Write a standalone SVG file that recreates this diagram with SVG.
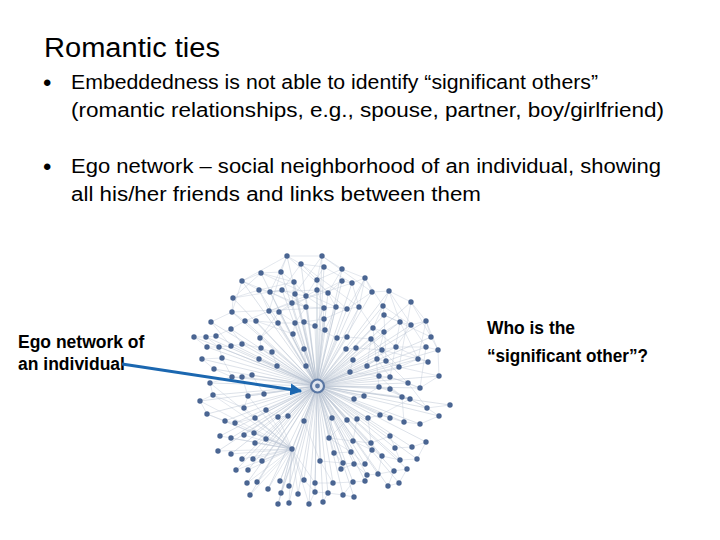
<svg xmlns="http://www.w3.org/2000/svg" width="720" height="540" viewBox="0 0 720 540">
<style>
.t{font-family:"Liberation Sans",Arial,sans-serif;fill:#000}
.body{font-size:20px}
.bul{font-size:24px}
.title{font-size:27px}
.lbl{font-size:17.5px;font-weight:bold}
.q{font-size:17.5px;font-weight:bold}
.e{fill:none;stroke:#b0bccd;stroke-width:0.55;opacity:0.8}
.e2{fill:none;stroke:#bcc6d5;stroke-width:0.5;opacity:0.8}
.n{fill:#4a6592}
</style>
<defs>
<marker id="ah" viewBox="0 0 10 10" refX="9" refY="5" markerWidth="4" markerHeight="4" orient="auto" markerUnits="strokeWidth">
<path d="M0 0L10 5L0 10z" fill="#1b67b0"/>
</marker>
</defs>
<rect width="720" height="540" fill="#fff"/>
<g id="title"><text class="t title" x="44" y="57" textLength="176" lengthAdjust="spacingAndGlyphs">Romantic ties</text></g>
<g id="bullets">
<text class="t bul" x="43" y="91">•</text>
<text class="t body" x="71" y="89" textLength="527" lengthAdjust="spacingAndGlyphs">Embeddedness is not able to identify “significant others”</text>
<text class="t body" x="71" y="117" textLength="593" lengthAdjust="spacingAndGlyphs">(romantic relationships, e.g., spouse, partner, boy/girlfriend)</text>
<text class="t bul" x="43" y="175">•</text>
<text class="t body" x="71" y="173" textLength="590" lengthAdjust="spacingAndGlyphs">Ego network – social neighborhood of an individual, showing</text>
<text class="t body" x="71" y="201" textLength="410" lengthAdjust="spacingAndGlyphs">all his/her friends and links between them</text>
</g>
<g id="edges">
<path class="e" d="M317 386L287 256M317 386L322 256M317 386L301 264M317 386L324 267M317 386L261 273M317 386L281 272M317 386L342 269M317 386L242 281M317 386L294 282M317 386L317 280M317 386L342 281M317 386L352 283M317 386L365 278M317 386L259 290M317 386L270 292M317 386L282 290M317 386L295 294M317 386L306 296M317 386L317 290M317 386L328 293M317 386L372 292M317 386L233 298M317 386L292 303M317 386L306 307M317 386L324 308M317 386L336 307M317 386L347 309M317 386L359 307M317 386L269 311M317 386L232 312M317 386L279 312M317 386L245 321M317 386L256 321M317 386L278 323M317 386L295 323M317 386L304 322M317 386L324 319M317 386L315 326M317 386L211 322M317 386L231 329M317 386L325 330M317 386L337 338M317 386L347 337M317 386L260 338M317 386L293 334
M317 386L194 337M317 386L206 337M317 386L216 336M317 386L207 347M317 386L219 347M317 386L231 346M317 386L242 344M317 386L261 348M317 386L272 352M317 386L202 359M317 386L222 358M317 386L259 359M317 386L277 366M317 386L306 366M317 386L304 349M317 386L346 349M317 386L356 348M317 386L353 360M317 386L214 369M317 386L232 377M317 386L242 377M317 386L252 375M317 386L210 383M317 386L200 401M317 386L213 395M317 386L248 396M317 386L264 394M317 386L207 414M317 386L244 408M317 386L225 421M317 386L235 423M317 386L255 418M317 386L266 410M317 386L278 417M317 386L288 416M317 386L304 421M317 386L332 418M317 386L347 420M317 386L357 419M317 386L368 418M317 386L364 396M317 386L354 399M317 386L350 372M317 386L367 366
M317 386L389 291M317 386L411 302M317 386L383 306M317 386L384 315M317 386L400 322M317 386L411 325M317 386L426 321M317 386L373 328M317 386L384 332M317 386L431 337M317 386L371 339M317 386L382 350M317 386L396 347M317 386L426 347M317 386L438 350M317 386L377 359M317 386L386 361M317 386L399 367M317 386L418 359M317 386L428 362M317 386L379 376M317 386L390 377M317 386L408 383M317 386L420 388M317 386L439 376M317 386L379 387M317 386L390 389M317 386L402 397M317 386L410 399M317 386L427 408M317 386L450 405M317 386L439 416M317 386L380 415M317 386L390 418M317 386L404 422M317 386L420 424
M317 386L220 436M317 386L231 438M317 386L244 435M317 386L254 433M317 386L266 439M317 386L255 443M317 386L218 451M317 386L231 454M317 386L242 459M317 386L253 459M317 386L262 461M317 386L292 449M317 386L329 438M317 386L353 441M317 386L371 443M317 386L390 436M317 386L382 456M317 386L372 450M317 386L351 452M317 386L334 453M317 386L395 448M317 386L412 447M317 386L426 442M317 386L236 470M317 386L248 470M317 386L320 461M317 386L343 463M317 386L354 464M317 386L365 464M317 386L341 469M317 386L400 460M317 386L417 459M317 386L367 475M317 386L378 474M317 386L394 471M317 386L407 469M317 386L247 483M317 386L257 482M317 386L268 489M317 386L280 481M317 386L289 486M317 386L304 480M317 386L315 483M317 386L333 483M317 386L353 482M317 386L365 481M317 386L388 486M317 386L399 483M317 386L250 495M317 386L281 493M317 386L298 494M317 386L315 492M317 386L328 493M317 386L343 495M317 386L354 497M317 386L278 504M317 386L289 503M317 386L309 504M317 386L323 502"/>
<path class="e2" d="M287 256L322 256M287 256L301 264M301 264L324 267M322 256L342 269M261 273L281 272M281 272L294 282M242 281L259 290M259 290L270 292M270 292L282 290M282 290L295 294M295 294L306 296M306 296L317 290M317 290L328 293M328 293L342 281M342 281L352 283M352 283L365 278M365 278L372 292M233 298L259 290M233 298L232 312M292 303L306 307M306 307L324 308M324 308L336 307M336 307L347 309M347 309L359 307M269 311L279 312M245 321L256 321M278 323L295 323M295 323L304 322M304 322L324 319M324 319L325 330M261 273L294 282M242 281L287 256M301 264L317 280M317 280L342 269M324 267L352 283M270 292L292 303M292 303L279 312M259 290L269 311M282 290L306 307M306 296L324 308M328 293L336 307M347 309L372 292M359 307L365 278M232 312L245 321M256 321L278 323M279 312L295 323M315 326L304 322M337 338L347 337M324 319L347 309M260 338L278 323M293 334L295 323M231 329L245 321M211 322L232 312M242 281L261 273M294 282L306 296M317 280L328 293M287 256L281 272M322 256L317 280M342 269L365 278M259 290L294 282M270 292L317 290M233 298L282 290M242 281L306 307M261 273L336 307M301 264L359 307M322 256L372 292M287 256L347 309M245 321L306 296M232 312L324 308M269 311L352 283M279 312L342 281M261 273L233 298M287 256L270 292M322 256L295 294M324 267L306 296M342 269L328 293M301 264L282 290M242 281L232 312M352 283L359 307M365 278L347 309M281 272L269 311M294 282L292 303M317 290L324 308M306 307L295 323M324 308L315 326M336 307L325 330M279 312L260 338M256 321L293 334M304 322L337 338M347 337L359 307
M389 291L411 302M389 291L383 306M383 306L384 315M384 315L400 322M400 322L411 325M411 325L426 321M411 302L426 321M373 328L384 332M384 332L400 322M426 321L431 337M431 337L438 350M371 339L382 350M382 350L396 347M396 347L426 347M426 347L438 350M377 359L386 361M386 361L399 367M399 367L418 359M418 359L428 362M379 376L390 377M390 377L408 383M408 383L420 388M420 388L439 376M379 387L390 389M390 389L402 397M402 397L410 399M410 399L427 408M427 408L450 405M427 408L439 416M380 415L390 418M390 418L404 422M404 422L420 424M420 424L439 416M383 306L411 325M389 291L400 322M373 328L396 347M384 315L431 337M371 339L399 367M382 350L418 359M396 347L428 362M377 359L390 377M386 361L408 383M399 367L439 376M379 376L402 397M390 377L420 388M379 387L410 399M390 389L427 408M402 397L404 422M380 415L410 399M411 302L431 337M426 321L438 350M400 322L418 359M384 332L377 359M371 339L386 361M408 383L427 408M438 350L439 376M426 347L420 388M383 306L373 328M411 325L396 347M389 291L426 347M384 315L386 361M400 322L390 377M411 302L399 367M373 328L379 387M426 321L418 359M372 292L389 291M365 278L383 306M359 307L373 328M347 337L371 339M356 348L382 350M367 366L377 359M364 396L379 387M368 418L380 415M350 372L379 376
M292 449L220 436M292 449L231 438M292 449L244 435M292 449L254 433M292 449L266 439M292 449L255 443M292 449L218 451M292 449L231 454M292 449L242 459M292 449L253 459M292 449L262 461M292 449L236 470M292 449L248 470M292 449L247 483M292 449L257 482M292 449L268 489M292 449L280 481M292 449L289 486M292 449L304 480M292 449L250 495M292 449L281 493M292 449L298 494M292 449L278 504M292 449L289 503M292 449L309 504M292 449L207 414M292 449L225 421M292 449L235 423M292 449L255 418M292 449L210 383M292 449L213 395M292 449L248 396M292 449L200 401M292 449L244 408M292 449L266 410M292 449L278 417M292 449L315 483
M329 438L353 441M353 441L371 443M371 443L390 436M372 450L382 456M351 452L334 453M395 448L412 447M412 447L426 442M343 463L354 464M354 464L365 464M400 460L417 459M367 475L378 474M378 474L394 471M394 471L407 469M333 483L353 482M353 482L365 481M388 486L399 483M315 492L328 493M328 493L343 495M343 495L354 497M320 461L343 463M341 469L354 464M365 464L372 450M382 456L400 460M390 436L395 448M426 442L417 459M368 418L371 443M357 419L353 441M347 420L329 438M332 418L329 438M304 421L320 461M315 483L333 483M304 480L315 492M329 438L351 452M353 441L372 450M334 453L343 463M351 452L365 464M371 443L382 456M395 448L400 460M367 475L354 464M378 474L382 456M343 495L353 482M365 481L367 475M388 486L394 471M399 483L407 469M320 461L333 483M323 502L328 493M309 504L315 492
M194 337L206 337M206 337L216 336M207 347L219 347M219 347L231 346M231 346L242 344M202 359L222 358M214 369L232 377M232 377L242 377M242 377L252 375M210 383L213 395M200 401L213 395M207 414L225 421M225 421L235 423M255 418L266 410M266 410L278 417M278 417L288 416M261 348L272 352M259 359L277 366M248 396L264 394M244 408L248 396M216 336L231 329M219 347L222 358M242 344L261 348M304 349L306 366M346 349L356 348M353 360L350 372M364 396L354 399M367 366L371 339M194 337L207 347M206 337L219 347M202 359L214 369M222 358L232 377M210 383L232 377M213 395L244 408M200 401L207 414M235 423L255 418M211 322L231 346M231 329L242 344M260 338L261 348M272 352L277 366M242 377L248 396M252 375L264 394"/>
</g>
<g id="nodes" class="n">
<circle cx="287" cy="256" r="2.7"/><circle cx="322" cy="256" r="2.7"/><circle cx="301" cy="264" r="2.7"/><circle cx="324" cy="267" r="2.7"/><circle cx="261" cy="273" r="2.7"/><circle cx="281" cy="272" r="2.7"/><circle cx="342" cy="269" r="2.7"/><circle cx="242" cy="281" r="2.7"/><circle cx="294" cy="282" r="2.7"/><circle cx="317" cy="280" r="2.7"/><circle cx="342" cy="281" r="2.7"/><circle cx="352" cy="283" r="2.7"/><circle cx="365" cy="278" r="2.7"/><circle cx="259" cy="290" r="2.7"/><circle cx="270" cy="292" r="2.7"/><circle cx="282" cy="290" r="2.7"/><circle cx="295" cy="294" r="2.7"/><circle cx="306" cy="296" r="2.7"/><circle cx="317" cy="290" r="2.7"/><circle cx="328" cy="293" r="2.7"/><circle cx="372" cy="292" r="2.7"/><circle cx="233" cy="298" r="2.7"/><circle cx="292" cy="303" r="2.7"/><circle cx="306" cy="307" r="2.7"/><circle cx="324" cy="308" r="2.7"/><circle cx="336" cy="307" r="2.7"/><circle cx="347" cy="309" r="2.7"/><circle cx="359" cy="307" r="2.7"/><circle cx="269" cy="311" r="2.7"/><circle cx="232" cy="312" r="2.7"/><circle cx="279" cy="312" r="2.7"/><circle cx="245" cy="321" r="2.7"/><circle cx="256" cy="321" r="2.7"/><circle cx="278" cy="323" r="2.7"/><circle cx="295" cy="323" r="2.7"/><circle cx="304" cy="322" r="2.7"/><circle cx="324" cy="319" r="2.7"/><circle cx="315" cy="326" r="2.7"/><circle cx="211" cy="322" r="2.7"/><circle cx="231" cy="329" r="2.7"/><circle cx="325" cy="330" r="2.7"/><circle cx="337" cy="338" r="2.7"/><circle cx="347" cy="337" r="2.7"/><circle cx="260" cy="338" r="2.7"/><circle cx="293" cy="334" r="2.7"/>
<circle cx="194" cy="337" r="2.7"/><circle cx="206" cy="337" r="2.7"/><circle cx="216" cy="336" r="2.7"/><circle cx="207" cy="347" r="2.7"/><circle cx="219" cy="347" r="2.7"/><circle cx="231" cy="346" r="2.7"/><circle cx="242" cy="344" r="2.7"/><circle cx="261" cy="348" r="2.7"/><circle cx="272" cy="352" r="2.7"/><circle cx="202" cy="359" r="2.7"/><circle cx="222" cy="358" r="2.7"/><circle cx="259" cy="359" r="2.7"/><circle cx="277" cy="366" r="2.7"/><circle cx="306" cy="366" r="2.7"/><circle cx="304" cy="349" r="2.7"/><circle cx="346" cy="349" r="2.7"/><circle cx="356" cy="348" r="2.7"/><circle cx="353" cy="360" r="2.7"/><circle cx="214" cy="369" r="2.7"/><circle cx="232" cy="377" r="2.7"/><circle cx="242" cy="377" r="2.7"/><circle cx="252" cy="375" r="2.7"/><circle cx="210" cy="383" r="2.7"/><circle cx="200" cy="401" r="2.7"/><circle cx="213" cy="395" r="2.7"/><circle cx="248" cy="396" r="2.7"/><circle cx="264" cy="394" r="2.7"/><circle cx="207" cy="414" r="2.7"/><circle cx="244" cy="408" r="2.7"/><circle cx="225" cy="421" r="2.7"/><circle cx="235" cy="423" r="2.7"/><circle cx="255" cy="418" r="2.7"/><circle cx="266" cy="410" r="2.7"/><circle cx="278" cy="417" r="2.7"/><circle cx="288" cy="416" r="2.7"/><circle cx="304" cy="421" r="2.7"/><circle cx="332" cy="418" r="2.7"/><circle cx="347" cy="420" r="2.7"/><circle cx="357" cy="419" r="2.7"/><circle cx="368" cy="418" r="2.7"/><circle cx="364" cy="396" r="2.7"/><circle cx="354" cy="399" r="2.7"/><circle cx="350" cy="372" r="2.7"/><circle cx="367" cy="366" r="2.7"/>
<circle cx="389" cy="291" r="2.7"/><circle cx="411" cy="302" r="2.7"/><circle cx="383" cy="306" r="2.7"/><circle cx="384" cy="315" r="2.7"/><circle cx="400" cy="322" r="2.7"/><circle cx="411" cy="325" r="2.7"/><circle cx="426" cy="321" r="2.7"/><circle cx="373" cy="328" r="2.7"/><circle cx="384" cy="332" r="2.7"/><circle cx="431" cy="337" r="2.7"/><circle cx="371" cy="339" r="2.7"/><circle cx="382" cy="350" r="2.7"/><circle cx="396" cy="347" r="2.7"/><circle cx="426" cy="347" r="2.7"/><circle cx="438" cy="350" r="2.7"/><circle cx="377" cy="359" r="2.7"/><circle cx="386" cy="361" r="2.7"/><circle cx="399" cy="367" r="2.7"/><circle cx="418" cy="359" r="2.7"/><circle cx="428" cy="362" r="2.7"/><circle cx="379" cy="376" r="2.7"/><circle cx="390" cy="377" r="2.7"/><circle cx="408" cy="383" r="2.7"/><circle cx="420" cy="388" r="2.7"/><circle cx="439" cy="376" r="2.7"/><circle cx="379" cy="387" r="2.7"/><circle cx="390" cy="389" r="2.7"/><circle cx="402" cy="397" r="2.7"/><circle cx="410" cy="399" r="2.7"/><circle cx="427" cy="408" r="2.7"/><circle cx="450" cy="405" r="2.7"/><circle cx="439" cy="416" r="2.7"/><circle cx="380" cy="415" r="2.7"/><circle cx="390" cy="418" r="2.7"/><circle cx="404" cy="422" r="2.7"/><circle cx="420" cy="424" r="2.7"/>
<circle cx="220" cy="436" r="2.7"/><circle cx="231" cy="438" r="2.7"/><circle cx="244" cy="435" r="2.7"/><circle cx="254" cy="433" r="2.7"/><circle cx="266" cy="439" r="2.7"/><circle cx="255" cy="443" r="2.7"/><circle cx="218" cy="451" r="2.7"/><circle cx="231" cy="454" r="2.7"/><circle cx="242" cy="459" r="2.7"/><circle cx="253" cy="459" r="2.7"/><circle cx="262" cy="461" r="2.7"/><circle cx="292" cy="449" r="2.7"/><circle cx="329" cy="438" r="2.7"/><circle cx="353" cy="441" r="2.7"/><circle cx="371" cy="443" r="2.7"/><circle cx="390" cy="436" r="2.7"/><circle cx="382" cy="456" r="2.7"/><circle cx="372" cy="450" r="2.7"/><circle cx="351" cy="452" r="2.7"/><circle cx="334" cy="453" r="2.7"/><circle cx="395" cy="448" r="2.7"/><circle cx="412" cy="447" r="2.7"/><circle cx="426" cy="442" r="2.7"/><circle cx="236" cy="470" r="2.7"/><circle cx="248" cy="470" r="2.7"/><circle cx="320" cy="461" r="2.7"/><circle cx="343" cy="463" r="2.7"/><circle cx="354" cy="464" r="2.7"/><circle cx="365" cy="464" r="2.7"/><circle cx="341" cy="469" r="2.7"/><circle cx="400" cy="460" r="2.7"/><circle cx="417" cy="459" r="2.7"/><circle cx="367" cy="475" r="2.7"/><circle cx="378" cy="474" r="2.7"/><circle cx="394" cy="471" r="2.7"/><circle cx="407" cy="469" r="2.7"/><circle cx="247" cy="483" r="2.7"/><circle cx="257" cy="482" r="2.7"/><circle cx="268" cy="489" r="2.7"/><circle cx="280" cy="481" r="2.7"/><circle cx="289" cy="486" r="2.7"/><circle cx="304" cy="480" r="2.7"/><circle cx="315" cy="483" r="2.7"/><circle cx="333" cy="483" r="2.7"/><circle cx="353" cy="482" r="2.7"/><circle cx="365" cy="481" r="2.7"/><circle cx="388" cy="486" r="2.7"/><circle cx="399" cy="483" r="2.7"/><circle cx="250" cy="495" r="2.7"/><circle cx="281" cy="493" r="2.7"/><circle cx="298" cy="494" r="2.7"/><circle cx="315" cy="492" r="2.7"/><circle cx="328" cy="493" r="2.7"/><circle cx="343" cy="495" r="2.7"/><circle cx="354" cy="497" r="2.7"/><circle cx="278" cy="504" r="2.7"/><circle cx="289" cy="503" r="2.7"/><circle cx="309" cy="504" r="2.7"/><circle cx="323" cy="502" r="2.7"/>
</g>
<g id="ego">
<circle cx="317.5" cy="386" r="6.5" fill="#dfe5ee" stroke="#5a77a3" stroke-width="2.2"/>
<circle cx="317.5" cy="386" r="2.4" fill="#5a77a3"/>
</g>
<g id="label-ego">
<text class="t lbl" x="18" y="348">Ego network of</text>
<text class="t lbl" x="18" y="370">an individual</text>
</g>
<g id="label-question">
<text class="t q" x="487" y="334" textLength="88" lengthAdjust="spacingAndGlyphs">Who is the</text>
<text class="t q" x="487" y="362" textLength="161" lengthAdjust="spacingAndGlyphs">“significant other”?</text>
</g>
<g id="connectors">
<line x1="122" y1="364" x2="301" y2="391" stroke="#1b67b0" stroke-width="3" marker-end="url(#ah)"/>
</g>
</svg>
